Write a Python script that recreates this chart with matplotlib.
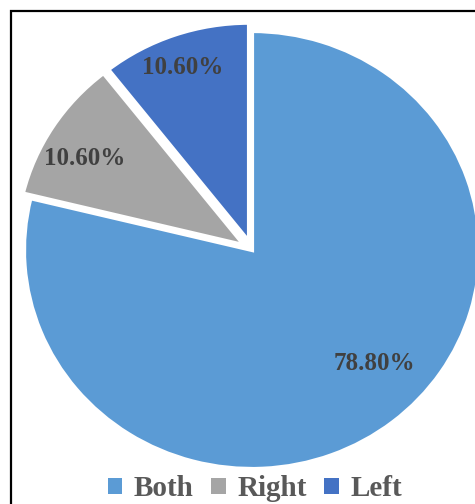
import matplotlib
matplotlib.use("Agg")
import matplotlib.pyplot as plt
from matplotlib.patches import Rectangle, Patch
import numpy as np

categories = ["Both", "Right", "Left"]
values = [78.8, 10.6, 10.6]
colors = ["#5B9BD5", "#A5A5A5", "#4472C4"]
explode = [0.0, 0.04, 0.04]

W, H = 475, 504
fig = plt.figure(figsize=(W / 100, H / 100), dpi=100)

# pie axes (slightly wider than tall, as in reference)
cx, cy, rx, ry = 252, 250, 228, 219
ax = fig.add_axes([(cx - rx) / W, (H - cy - ry) / H, 2 * rx / W, 2 * ry / H])
wedges, texts, autotexts = ax.pie(
    values, colors=colors, startangle=90, counterclock=False,
    explode=explode, radius=1.0, autopct="%.2f%%", pctdistance=0.8,
    wedgeprops=dict(edgecolor="white", linewidth=3),
    textprops=dict(family="Liberation Serif", fontsize=18, fontweight="bold",
                   color="#404040"),
)
ax.set_aspect("auto")
ax.set_xlim(-1, 1)
ax.set_ylim(-1, 1)
ax.axis("off")

# Excel-like placement of labels
ang = np.deg2rad(-44)
autotexts[0].set_position((0.745 * np.cos(ang), 0.745 * np.sin(ang)))
ang = np.deg2rad(150.5)
autotexts[1].set_position((0.845 * np.cos(ang), 0.845 * np.sin(ang)))
ang = np.deg2rad(110)
autotexts[2].set_position((0.885 * np.cos(ang), 0.885 * np.sin(ang)))

# frame border
fig.patches.append(Rectangle((11 / W, -0.05), 1.2, (H - 10.5) / H + 0.05,
                             transform=fig.transFigure, fill=False,
                             edgecolor="black", linewidth=1.6, zorder=10))

handles = [Patch(facecolor=c, edgecolor="none") for c in colors]
leg = fig.legend(handles, categories, loc="center", bbox_to_anchor=(255 / W, 1 - 489 / H),
                 ncol=3, frameon=False, handlelength=0.5, handleheight=0.5,
                 handletextpad=0.4, columnspacing=0.6,
                 prop=dict(family="Liberation Serif", size=21, weight="bold"))
for t in leg.get_texts():
    t.set_color("#595959")

fig.savefig("out.png", dpi=100)
